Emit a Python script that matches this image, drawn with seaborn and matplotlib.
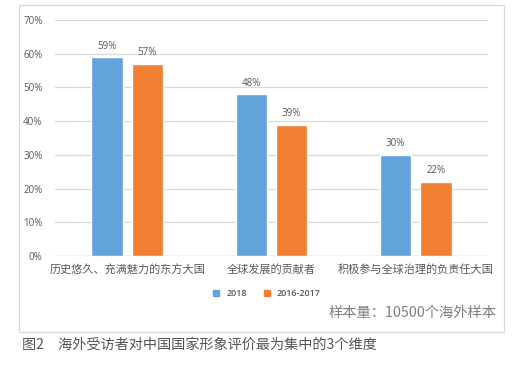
import matplotlib
matplotlib.use("Agg")
import matplotlib.pyplot as plt
import seaborn as sns
import pandas as pd
from matplotlib.patches import Rectangle
from matplotlib.lines import Line2D

categories = ["历史悠久、充满魅力的东方大国", "全球发展的贡献者", "积极参与全球治理的负责任大国"]
series_names = ["2018", "2016-2017"]
values_2018 = [59, 48, 30]
values_2016_2017 = [57, 39, 22]
y_ticks = [0, 10, 20, 30, 40, 50, 60, 70]
sample_note = "样本量：10500个海外样本"
caption = "图2\u3000海外受访者对中国国家形象评价最为集中的3个维度"

sns.set_theme(style="white")
plt.rcParams['font.family'] = ['Noto Sans CJK SC', 'DejaVu Sans']

df = pd.DataFrame({
    "category": categories * 2,
    "series": [series_names[0]] * 3 + [series_names[1]] * 3,
    "value": values_2018 + values_2016_2017,
})

colors = ["#62A3DB", "#F07F32"]
fig = plt.figure(figsize=(5.2, 3.65), dpi=100)
fig.patch.set_facecolor("white")

# outer frame
fig.patches.append(Rectangle((19/520, 1-332/365), 485/520, 327/365, transform=fig.transFigure,
                             fill=False, edgecolor="#D9D9D9", linewidth=0.9))

ax = fig.add_axes([55/520, 1-256/365, 433/520, 236/365])
sns.barplot(data=df, x="category", y="value", hue="series", palette=colors,
            width=0.56, gap=0.22, ax=ax, legend=False, saturation=1)

ax.set_ylim(0, 70)
ax.set_yticks(y_ticks)
ax.set_yticklabels([f"{t}%" for t in y_ticks], fontsize=7, color="#595959",
                   family=['Open Sans', 'DejaVu Sans'])
ax.yaxis.grid(True, color="#D9D9D9", linewidth=0.9)
ax.set_axisbelow(True)
for s in ax.spines.values():
    s.set_visible(False)
ax.axhline(0, color="#D0D0D0", linewidth=1.0, zorder=0.5)
ax.tick_params(axis="y", length=0, pad=9)
ax.tick_params(axis="x", length=0, pad=6)
ax.set_xticks(range(len(categories)))
ax.set_xticklabels(categories, fontsize=8, color="#595959")
ax.set_xlabel("")
ax.set_ylabel("")
ax.set_xlim(-0.5, 2.5)

for cont in ax.containers:
    ax.bar_label(cont, labels=[f"{int(v)}%" for v in cont.datavalues], padding=4,
                 fontsize=7, color="#595959", family=['Open Sans', 'DejaVu Sans'])

handles = [Line2D([0], [0], marker="s", linestyle="none", markersize=4.5,
                  markerfacecolor=c, markeredgecolor=c) for c in colors]
fig.legend(handles, series_names, loc="center", bbox_to_anchor=(264/520, 1-294/365),
           ncol=2, frameon=False, fontsize=6.5, labelcolor="#595959", handletextpad=0.1,
           columnspacing=1.2, prop={'family': ['Open Sans', 'DejaVu Sans'], 'size': 6.5, 'weight': 'semibold'})

fig.text(497/520, 1-313/365, sample_note, ha="right", va="center", fontsize=10.3, color="#7F7F7F")
fig.text(22/520, 1-345/365, caption, ha="left", va="center", fontsize=10.2, color="#555555")

fig.savefig("out.png", dpi=100, facecolor="white")
